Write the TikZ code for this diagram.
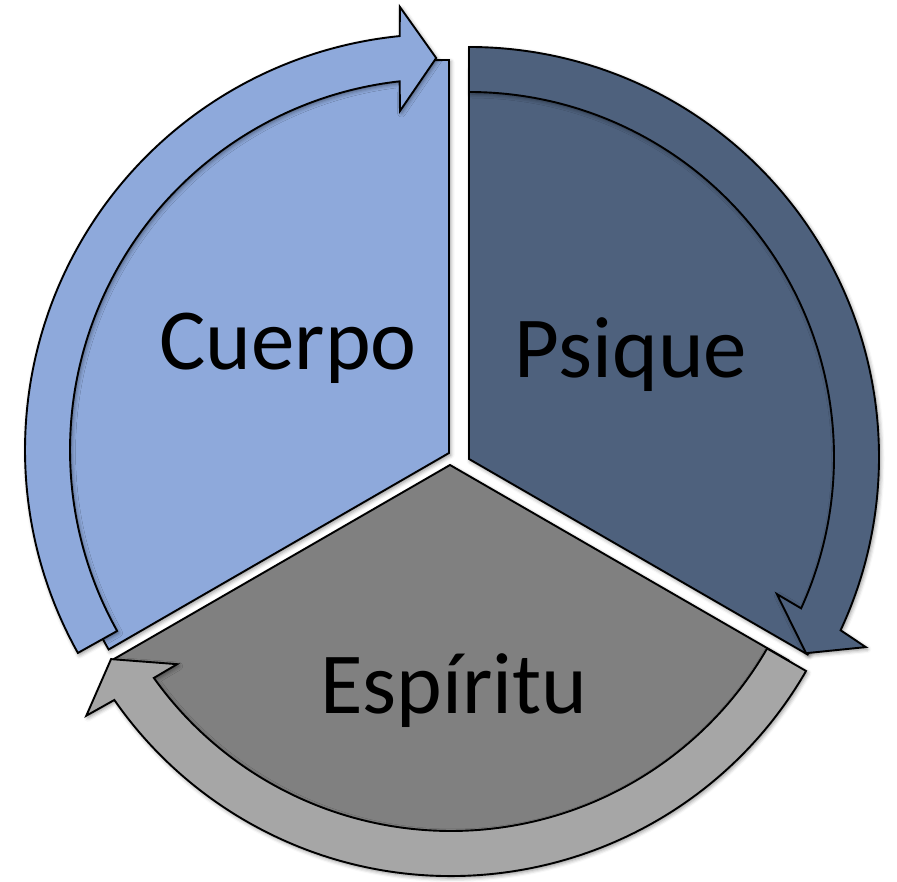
\documentclass[tikz,border=0pt]{standalone}
\usepackage{fontspec}
\setmainfont{Carlito}
\usetikzlibrary{shadows.blur}
\definecolor{cuerpoC}{RGB}{142,169,219}
\definecolor{psiqueC}{RGB}{78,97,125}
\definecolor{espsecC}{RGB}{128,128,128}
\definecolor{esparrC}{RGB}{166,166,166}
\tikzset{
  shp/.style={draw=black, line width=1.9pt, line join=miter,
    blur shadow={shadow xshift=1.5pt, shadow yshift=-2pt, shadow blur radius=4pt, shadow opacity=45}},
  lbl/.style={font=\fontsize{87}{104}\selectfont, text=black, inner sep=0pt, anchor=base}
}
\begin{document}
\begin{tikzpicture}[x=1pt,y=1pt]
\useasboundingbox (0,0) rectangle (897,881);
% sectors
\path[shp, fill=cuerpoC] (449,428) -- ++(90:393) arc[start angle=90, end angle=210, radius=393pt] -- cycle;
\path[shp, fill=psiqueC] (469,422) -- ++(90:391) arc[start angle=90, end angle=-30, radius=391pt] -- cycle;
\path[shp, fill=espsecC] (450,416) -- ++(210:391) arc[start angle=210, end angle=330, radius=391pt] -- cycle;
% arrows
\begin{scope}[shift={(441,431)}]
\path[shp, fill=cuerpoC] (209.2:416) arc[start angle=209.2, end angle=95.7, radius=416pt]
  -- (95.3:445) -- (90.7:392) -- (96.9:341.5) -- (96.4:371)
  arc[start angle=96.4, end angle=209.2, radius=371pt] -- cycle;
\end{scope}
\begin{scope}[shift={(469,424)}]
\path[shp, fill=psiqueC] (90:410) arc[start angle=90, end angle=-25, radius=410pt]
  -- (-25.6:440) -- (-30.2:390) -- (-24:337) -- (-24.5:365)
  arc[start angle=-24.5, end angle=90, radius=365pt] -- cycle;
\end{scope}
\begin{scope}[shift={(451,415)}]
\path[shp, fill=esparrC] (330:410) arc[start angle=330, end angle=214.8, radius=410pt]
  -- (214.4:442) -- (209.6:391) -- (215.9:338) -- (215.5:365)
  arc[start angle=215.5, end angle=330, radius=365pt] -- cycle;
\end{scope}
% labels
\node[lbl] (cuerpo) at (288,511) {Cuerpo};
\node[lbl] (psique) at (631,503) {Psique};
\node[lbl] (espiritu) at (454,167) {Espíritu};
\end{tikzpicture}
\end{document}
